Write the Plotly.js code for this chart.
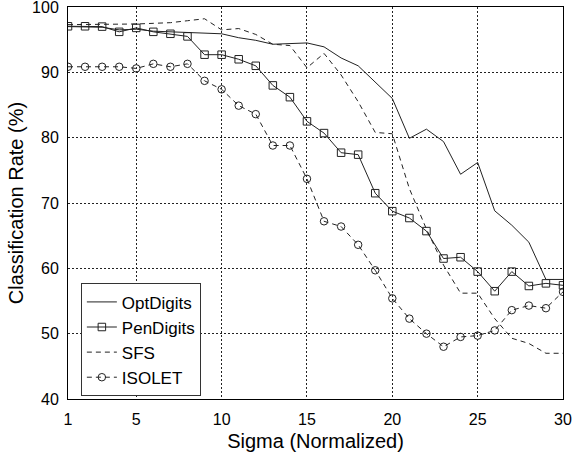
<!DOCTYPE html>
<html>
<head>
<meta charset="utf-8">
<script src="https://cdn.plot.ly/plotly-3.0.1.min.js"></script>
<style>html,body{margin:0;padding:0;background:#fff;}#chart{width:572px;height:454px;}</style>
</head>
<body>
<div id="chart"></div>
<script>
const sigma = [1,2,3,4,5,6,7,8,9,10,11,12,13,14,15,16,17,18,19,20,21,22,23,24,25,26,27,28,29,30];
const optDigits = [97.0,97.0,96.9,96.5,96.6,96.3,96.2,96.2,96.1,95.9,95.3,94.9,94.3,94.4,94.5,93.9,92.2,91.0,88.5,86.0,79.9,81.3,79.4,74.4,76.2,68.8,66.6,64.0,58.3,58.3];
const penDigits = [97.05,97.05,97.0,96.2,96.8,96.2,95.9,95.5,92.7,92.7,92.0,91.0,88.0,86.2,82.5,80.7,77.7,77.4,71.5,68.75,67.7,65.7,61.5,61.7,59.5,56.5,59.5,57.3,57.7,57.4];
const sfs = [97.3,97.3,97.3,97.3,97.4,97.5,97.6,97.9,98.2,96.5,96.7,95.8,94.3,94.1,90.7,92.9,89.6,85.5,80.8,80.6,72.2,66.0,60.5,56.2,56.2,52.3,49.3,48.5,47.0,47.0];
const isolet = [90.85,90.85,90.85,90.85,90.6,91.3,90.85,91.3,88.7,87.4,84.9,83.6,78.8,78.8,73.7,67.2,66.4,63.6,59.7,55.4,52.3,50.0,48.0,49.5,49.7,50.5,53.6,54.3,53.9,56.4];
const seriesNames = ['OptDigits','PenDigits','SFS','ISOLET'];
const xTicks = [1,5,10,15,20,25,30];

const lineColor = '#222';
const traces = [
  {x: sigma, y: optDigits, name: seriesNames[0], mode: 'lines',
   line: {color: lineColor, width: 1}},
  {x: sigma, y: penDigits, name: seriesNames[1], mode: 'lines+markers',
   line: {color: lineColor, width: 1},
   marker: {symbol: 'square-open', size: 7.5, color: lineColor, line: {width: 1, color: lineColor}}},
  {x: sigma, y: sfs, name: seriesNames[2], mode: 'lines',
   line: {color: lineColor, width: 1, dash: '5px,4px'}},
  {x: sigma, y: isolet, name: seriesNames[3], mode: 'lines+markers',
   line: {color: lineColor, width: 1, dash: '5px,4px'},
   marker: {symbol: 'circle-open', size: 7.5, color: lineColor, line: {width: 1, color: lineColor}}}
];

const font = {family: '"Liberation Sans", Arial, Helvetica, sans-serif', color: '#000'};
const gridStyle = {showgrid: true, gridcolor: '#222', gridwidth: 1, griddash: '2px,2px'};
const layout = {
  width: 572, height: 454,
  margin: {l: 68, r: 9, t: 7, b: 55},
  paper_bgcolor: '#fff', plot_bgcolor: '#fff',
  font: Object.assign({size: 16}, font),
  showlegend: true,
  legend: {x: 0.026, y: 0.295, xanchor: 'left', yanchor: 'top',
    bgcolor: '#fff', bordercolor: '#333', borderwidth: 1,
    font: Object.assign({size: 17}, font), tracegroupgap: 0},
  xaxis: Object.assign({range: [1, 30], tickvals: xTicks, ticktext: xTicks.map(String),
    showline: true, linecolor: '#000', linewidth: 1, mirror: true,
    ticks: '', ticklabelstandoff: 6, ticklabeloverflow: 'allow',
    zeroline: false, tickfont: Object.assign({size: 16}, font),
    title: {text: 'Sigma (Normalized)', font: Object.assign({size: 20}, font), standoff: 6}}, gridStyle),
  yaxis: Object.assign({range: [40, 100], dtick: 10, tick0: 40,
    showline: true, linecolor: '#000', linewidth: 1, mirror: true,
    ticks: '', ticklabelstandoff: 5, ticklabeloverflow: 'allow',
    zeroline: false, tickfont: Object.assign({size: 16}, font),
    title: {text: 'Classification Rate (%)', font: Object.assign({size: 20}, font), standoff: 3}}, gridStyle)
};

Plotly.newPlot('chart', traces, layout, {staticPlot: true, displayModeBar: false});
</script>
</body>
</html>
